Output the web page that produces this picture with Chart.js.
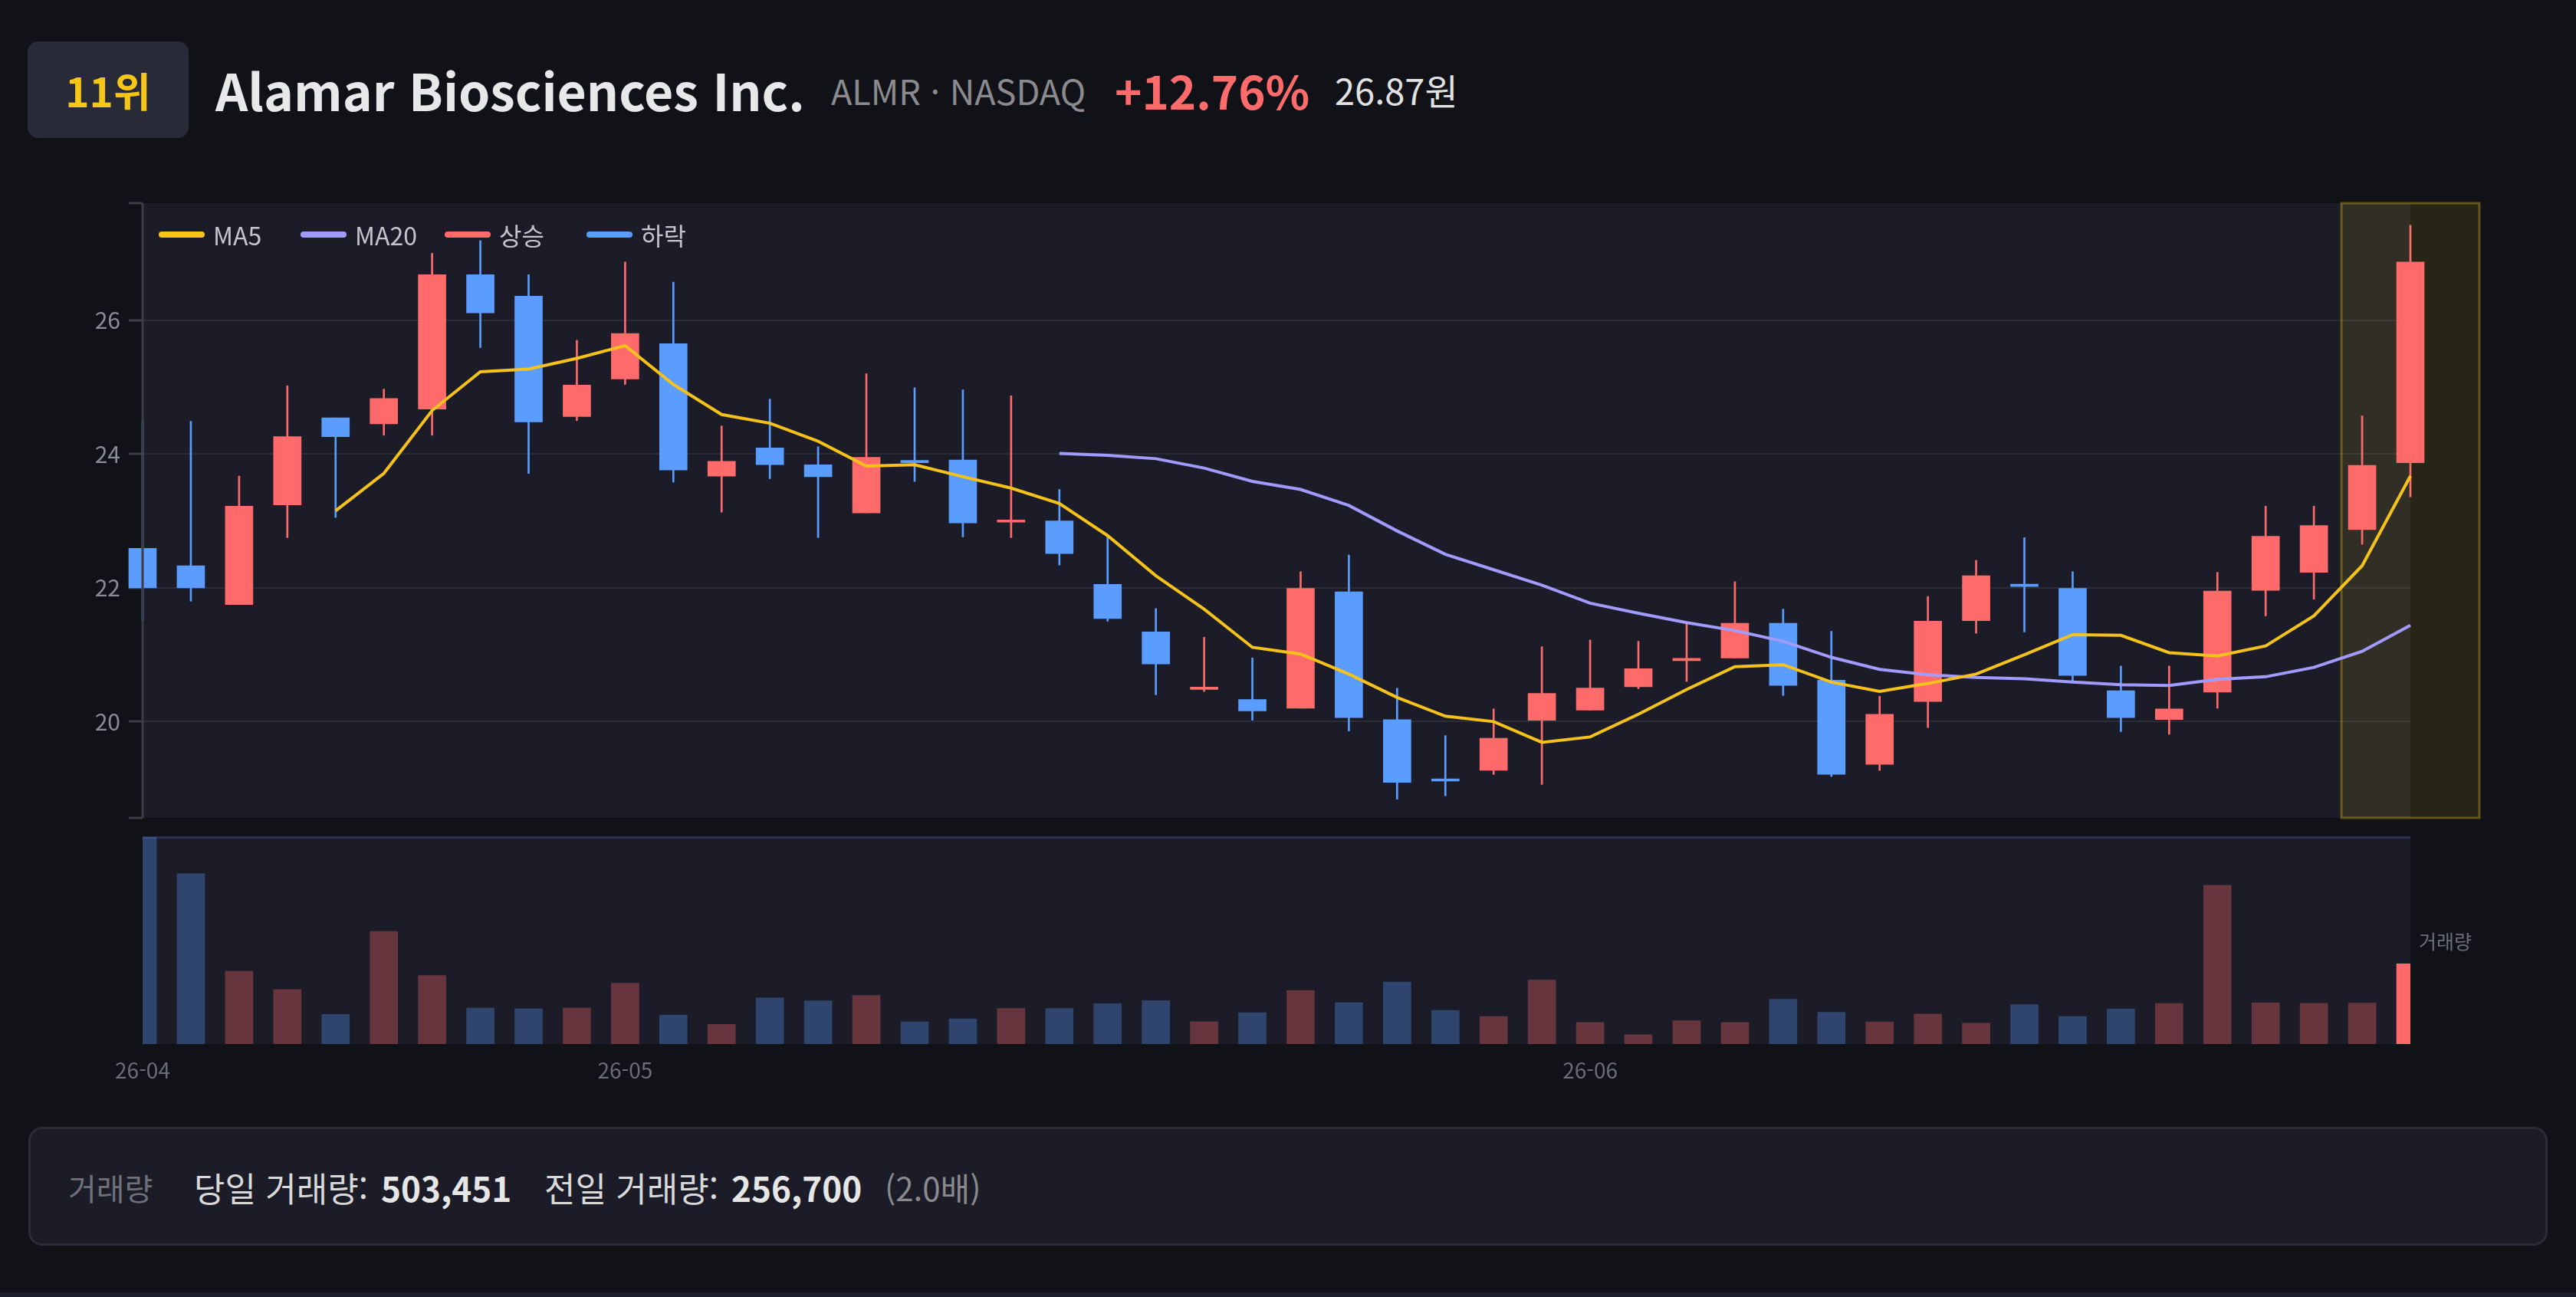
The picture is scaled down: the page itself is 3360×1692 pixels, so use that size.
<!DOCTYPE html>
<html lang="ko">
<head>
<meta charset="utf-8">
<title>Alamar Biosciences Inc. 차트</title>
<script src="https://cdn.jsdelivr.net/npm/chart.js@4.4.1/dist/chart.umd.min.js"></script>
<style>
  html, body { margin: 0; padding: 0; background: #111217; width: 3360px; height: 1692px; overflow: hidden;
    font-family: 'Noto Sans CJK KR', 'Noto Sans', sans-serif; }
  .abs { position: absolute; line-height: 1; white-space: nowrap; }
  #badge { left: 36px; top: 54px; width: 210px; height: 126px; background: #282b37; border-radius: 14px;
    display: flex; align-items: center; justify-content: center; color: #f5c518; font-weight: 700; font-size: 53px; }
  #title { left: 281px; top: 83px; font-size: 66px; font-weight: 700; color: #e8e8ea; }
  #ticker { left: 1084px; top: 95px; font-size: 45px; color: #8b8b8f; }
  #pct { left: 1454px; top: 87px; font-size: 60px; font-weight: 700; color: #ff6b6b; }
  #price { left: 1741px; top: 93px; font-size: 47px; color: #e2e2e2; }
  #priceWrap { position: absolute; left: 0; top: 236px; width: 3360px; height: 860px; }
  #volWrap { position: absolute; left: 0; top: 1081px; width: 3360px; height: 360px; }
  .leg { position: absolute; top: 288px; display: flex; align-items: center; height: 36px; }
  .leg i { display: block; width: 60px; height: 8px; border-radius: 4px; margin-right: 11px; }
  .leg span { font-size: 32px; line-height: 1; color: #c5c6cc; }
  #volLabel { left: 3155px; top: 1215px; font-size: 25px; color: #6c6f78; }
  #infoBox { position: absolute; left: 37px; top: 1470px; width: 3286px; height: 155px; box-sizing: border-box;
    background: #1b1c27; border: 3px solid #2a2c38; border-radius: 18px; }
  .lbl { font-size: 44px; top: 1527px; color: #d9d9d9; }
  .num { font-size: 44px; font-weight: 700; top: 1527px; color: #e6e6e6; }
  #bottomLine { position: absolute; left: 0; top: 1686px; width: 3360px; height: 6px; background: #1c1f2b; }
</style>
</head>
<body>

<div id="badge" class="abs">11위</div>
<div id="title" class="abs">Alamar Biosciences Inc.</div>
<div id="ticker" class="abs">ALMR · NASDAQ</div>
<div id="pct" class="abs">+12.76%</div>
<div id="price" class="abs">26.87원</div>

<div id="priceWrap"><canvas id="priceChart"></canvas></div>
<div id="volWrap"><canvas id="volChart"></canvas></div>

<div class="leg" style="left:207px"><i style="background:#f5c518"></i><span>MA5</span></div>
<div class="leg" style="left:392px"><i style="background:#a29bfe"></i><span>MA20</span></div>
<div class="leg" style="left:580px"><i style="background:#ff6b6b"></i><span>상승</span></div>
<div class="leg" style="left:765px"><i style="background:#5b9cff"></i><span>하락</span></div>

<div id="volLabel" class="abs">거래량</div>

<div id="infoBox"></div>
<div class="abs lbl" style="left:89px; top:1529px; font-size:40px; color:#6f7078">거래량</div>
<div class="abs lbl" style="left:253px">당일 거래량:</div>
<div class="abs num" style="left:497px">503,451</div>
<div class="abs lbl" style="left:710px">전일 거래량:</div>
<div class="abs num" style="left:954px">256,700</div>
<div class="abs lbl" style="left:1154px; top:1528px; font-size:42px; color:#8a8a8e">(2.0배)</div>
<div id="bottomLine"></div>

<script>
// daily candles, 2026-04-17 .. 2026-06-25
const dates = [
  '2026-04-17', '2026-04-20', '2026-04-21', '2026-04-22', '2026-04-23', '2026-04-24',
  '2026-04-27', '2026-04-28', '2026-04-29', '2026-04-30',
  '2026-05-01', '2026-05-04', '2026-05-05', '2026-05-06', '2026-05-07', '2026-05-08',
  '2026-05-11', '2026-05-12', '2026-05-13', '2026-05-14', '2026-05-15',
  '2026-05-18', '2026-05-19', '2026-05-20', '2026-05-21', '2026-05-22',
  '2026-05-26', '2026-05-27', '2026-05-28', '2026-05-29',
  '2026-06-01', '2026-06-02', '2026-06-03', '2026-06-04', '2026-06-05',
  '2026-06-08', '2026-06-09', '2026-06-10', '2026-06-11', '2026-06-12',
  '2026-06-15', '2026-06-16', '2026-06-17', '2026-06-18',
  '2026-06-22', '2026-06-23', '2026-06-24', '2026-06-25'
];
const opens = [
  22.59, 22.33, 21.75, 23.24, 24.54, 24.45, 24.67, 26.68, 26.36, 24.56,
  25.12, 25.65, 23.67, 24.09, 23.84, 23.12, 23.89, 23.91, 22.98, 23.00,
  22.05, 21.34, 20.48, 20.33, 20.20, 21.94, 20.03, 19.13, 19.27, 20.02,
  20.17, 20.52, 20.91, 20.95, 21.47, 20.62, 19.36, 20.30, 21.51, 22.04,
  21.99, 20.46, 20.03, 20.44, 21.96, 22.23, 22.87, 23.87
];
const highs = [
  24.49, 24.49, 23.67, 25.02, 24.54, 24.97, 27.00, 27.19, 26.68, 25.70,
  26.87, 26.57, 24.42, 24.82, 24.11, 25.20, 24.99, 24.96, 24.87, 23.47,
  22.76, 21.69, 21.26, 20.95, 22.24, 22.49, 20.50, 19.79, 20.19, 21.12,
  21.22, 21.20, 21.49, 22.09, 21.68, 21.35, 20.38, 21.87, 22.41, 22.75,
  22.24, 20.83, 20.83, 22.23, 23.22, 23.22, 24.57, 27.42
];
const lows = [
  21.51, 21.80, 21.75, 22.75, 23.05, 24.28, 24.28, 25.59, 23.71, 24.50,
  25.04, 23.58, 23.13, 23.63, 22.75, 23.12, 23.59, 22.76, 22.75, 22.34,
  21.50, 20.40, 20.45, 20.02, 20.20, 19.86, 18.84, 18.89, 19.21, 19.06,
  20.17, 20.49, 20.60, 20.95, 20.39, 19.18, 19.27, 19.91, 21.32, 21.34,
  20.59, 19.85, 19.81, 20.20, 21.58, 21.83, 22.65, 23.36
];
const closes = [
  22.00, 22.00, 23.22, 24.26, 24.26, 24.83, 26.68, 26.11, 24.48, 25.03,
  25.80, 23.76, 23.89, 23.84, 23.66, 23.95, 23.87, 22.97, 23.00, 22.51,
  21.54, 20.86, 20.50, 20.16, 21.99, 20.06, 19.09, 19.11, 19.75, 20.42,
  20.50, 20.79, 20.93, 21.47, 20.54, 19.21, 20.11, 21.50, 22.18, 22.02,
  20.69, 20.06, 20.19, 21.95, 22.77, 22.93, 23.83, 26.87
];
const volumes = [
  1298000, 1069000, 457000, 343000, 186000, 707000, 430000, 226000, 221000, 226000,
  382000, 181000, 123000, 290000, 271000, 305000, 139000, 159000, 223000, 224000,
  253000, 273000, 141000, 197000, 337000, 260000, 390000, 212000, 173000, 402000,
  136000, 58000, 146000, 135000, 281000, 199000, 139000, 188000, 131000, 247000,
  173000, 220000, 255000, 997000, 258000, 256500, 256700, 503451
];
const ma5 = [
  null, null, null, null, 23.15, 23.71, 24.65, 25.23, 25.27, 25.43,
  25.62, 25.04, 24.59, 24.46, 24.19, 23.82, 23.84, 23.66, 23.49, 23.26,
  22.78, 22.18, 21.68, 21.11, 21.01, 20.71, 20.36, 20.08, 20.00, 19.69,
  19.77, 20.11, 20.48, 20.82, 20.85, 20.59, 20.45, 20.57, 20.71, 21.00,
  21.30, 21.29, 21.03, 20.98, 21.13, 21.58, 22.33, 23.67
];
const ma20 = [
  null, null, null, null, null, null, null, null, null, null,
  null, null, null, null, null, null, null, null, null, 24.01,
  23.98, 23.93, 23.79, 23.59, 23.47, 23.23, 22.85, 22.50, 22.27, 22.04,
  21.77, 21.62, 21.48, 21.36, 21.20, 20.96, 20.78, 20.70, 20.66, 20.64,
  20.59, 20.55, 20.54, 20.63, 20.67, 20.81, 21.05, 21.44
];
const priceTicks = [20, 22, 24, 26];

const UP = '#ff6b6b';
const DOWN = '#5b9cff';
const isUp = closes.map((c, i) => c >= opens[i]);
const last = dates.length - 1;

Chart.defaults.font.family = "'Noto Sans CJK KR', 'Noto Sans', sans-serif";

function monthLabel(i) {
  const m = dates[i].slice(0, 7);
  if (i === 0 || m !== dates[i - 1].slice(0, 7)) return dates[i].slice(2, 7);
  return '';
}

// plot area background
const areaBg = {
  id: 'areaBg',
  beforeDraw(chart) {
    const { ctx, chartArea: a } = chart;
    ctx.save();
    ctx.fillStyle = '#1b1c27';
    ctx.fillRect(a.left, a.top, a.right - a.left, a.bottom - a.top);
    ctx.restore();
  }
};

// yellow box around the latest candle
const lastHighlight = {
  id: 'lastHighlight',
  beforeDatasetsDraw(chart) {
    const { ctx, chartArea: a, scales } = chart;
    const cx = scales.x.getPixelForValue(last);
    const half = 90;
    ctx.save();
    ctx.fillStyle = 'rgba(250,204,21,0.10)';
    ctx.fillRect(cx - half, a.top, half * 2, a.bottom - a.top);
    ctx.strokeStyle = 'rgba(250,204,21,0.32)';
    ctx.lineWidth = 3;
    ctx.strokeRect(cx - half, a.top, half * 2, a.bottom - a.top);
    ctx.restore();
  }
};

// y axis line, drawn over the first candle like in the original
const axisLine = {
  id: 'axisLine',
  afterDatasetsDraw(chart) {
    const { ctx, chartArea: a } = chart;
    ctx.save();
    ctx.strokeStyle = '#3c3d46';
    ctx.lineWidth = 3;
    ctx.beginPath();
    ctx.moveTo(a.left, a.top);
    ctx.lineTo(a.left, a.bottom);
    ctx.stroke();
    ctx.restore();
  }
};

const volTopLine = {
  id: 'volTopLine',
  afterDraw(chart) {
    const { ctx, chartArea: a } = chart;
    ctx.save();
    ctx.strokeStyle = 'rgba(90,110,190,0.27)';
    ctx.lineWidth = 3;
    ctx.beginPath();
    ctx.moveTo(a.left, a.top + 1.5);
    ctx.lineTo(a.right, a.top + 1.5);
    ctx.stroke();
    ctx.restore();
  }
};

new Chart(document.getElementById('priceChart'), {
  type: 'bar',
  data: {
    labels: dates,
    datasets: [
      {
        type: 'line', label: 'MA5', data: ma5,
        borderColor: '#f5c21b', borderWidth: 4, pointRadius: 0, tension: 0, order: 0
      },
      {
        type: 'line', label: 'MA20', data: ma20,
        borderColor: '#a29bfe', borderWidth: 4, pointRadius: 0, tension: 0, order: 0
      },
      {
        label: '몸통', data: dates.map((d, i) => [opens[i], closes[i]]),
        backgroundColor: isUp.map(u => u ? UP : DOWN),
        barThickness: 36, minBarLength: 3, grouped: false, clip: false, order: 1
      },
      {
        label: '꼬리', data: dates.map((d, i) => [lows[i], highs[i]]),
        backgroundColor: isUp.map(u => u ? UP : DOWN),
        barThickness: 2, grouped: false, clip: false, order: 2
      }
    ]
  },
  options: {
    responsive: true,
    maintainAspectRatio: false,
    animation: false,
    layout: { padding: { top: 0, bottom: 0, left: 0, right: 216 } },
    plugins: { legend: { display: false }, tooltip: { enabled: false } },
    scales: {
      x: { type: 'category', offset: false, display: false },
      y: {
        min: 18.56,
        max: 27.75,
        afterFit(s) { s.width = 186; },
        border: { display: false },
        grid: {
          color: c => priceTicks.some(t => Math.abs(t - c.tick.value) < 1e-6) ? '#2a2c38' : 'rgba(0,0,0,0)',
          lineWidth: 2,
          tickLength: 18,
          tickColor: '#3c3d46',
          tickWidth: 3
        },
        ticks: {
          stepSize: 2,
          padding: 11,
          color: '#8a8c94',
          font: { size: 30 },
          callback: v => priceTicks.some(t => Math.abs(t - v) < 1e-6) ? v : ''
        }
      }
    }
  },
  plugins: [areaBg, lastHighlight, axisLine]
});

new Chart(document.getElementById('volChart'), {
  type: 'bar',
  data: {
    labels: dates,
    datasets: [{
      label: '거래량',
      data: volumes,
      backgroundColor: volumes.map((v, i) => i === last ? UP : (isUp[i] ? 'rgba(255,107,107,0.33)' : 'rgba(91,156,255,0.33)')),
      barThickness: 36
    }]
  },
  options: {
    responsive: true,
    maintainAspectRatio: false,
    animation: false,
    layout: { padding: { top: 10, bottom: 10, left: 186, right: 216 } },
    plugins: { legend: { display: false }, tooltip: { enabled: false } },
    scales: {
      x: {
        type: 'category',
        offset: false,
        afterFit(s) { s.height = 69; },
        grid: { display: false, drawTicks: false },
        border: { display: false },
        ticks: {
          autoSkip: false,
          maxRotation: 0,
          padding: 18,
          color: '#6b6d75',
          font: { size: 28 },
          callback: (v, i) => monthLabel(i)
        }
      },
      y: { display: false, min: 0, max: Math.max(...volumes) * 1.005 }
    }
  },
  plugins: [areaBg, volTopLine]
});
</script>
</body>
</html>
